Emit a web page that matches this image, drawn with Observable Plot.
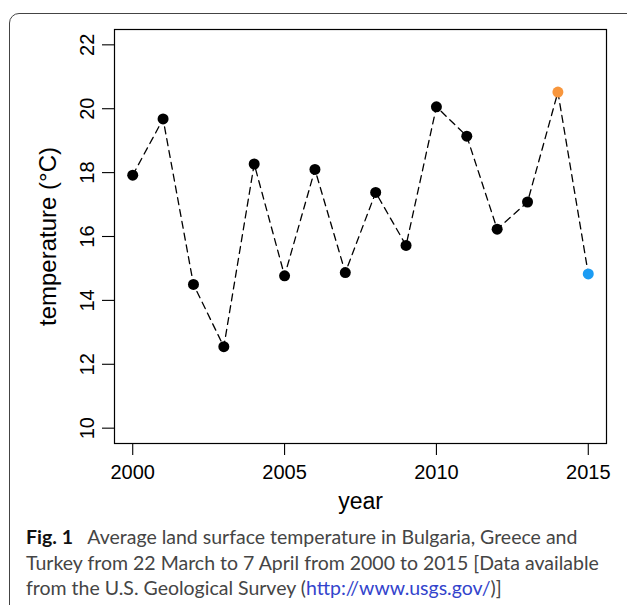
<!DOCTYPE html>
<html>
<head>
<meta charset="utf-8">
<script src="https://cdn.jsdelivr.net/npm/d3@7"></script>
<script src="https://cdn.jsdelivr.net/npm/@observablehq/plot@0.6"></script>
<style>
  html, body { margin: 0; padding: 0; background: #fff; }
  #wrap { position: relative; width: 627px; height: 605px; overflow: hidden; }
  #frame { position: absolute; left: 9px; top: 13px; width: 700px; height: 700px;
           border: 1.3px solid #444; border-top-left-radius: 10px; box-sizing: border-box; }
  #chart { position: absolute; left: 0; top: 0; }
  #cap { position: absolute; left: 26px; top: 524px; font-family: Lato, "Noto Sans", sans-serif;
         font-size: 19.5px; line-height: 25.5px; color: #454545; white-space: nowrap; }
  #cap b { color: #111; font-weight: 700; }
  #cap a { color: #3344cc; text-decoration: none; }
</style>
</head>
<body>
<div id="wrap">
  <div id="frame"></div>
  <div id="chart"></div>
  <div id="cap"><b>Fig. 1</b>&nbsp;&nbsp;&nbsp;Average land surface temperature in Bulgaria, Greece and<br>Turkey from 22 March to 7 April from 2000 to 2015 [Data available<br>from the U.S. Geological Survey (<a>http://www.usgs.gov/</a>)]</div>
</div>
<script>
const years = [2000, 2001, 2002, 2003, 2004, 2005, 2006, 2007, 2008, 2009, 2010, 2011, 2012, 2013, 2014, 2015];
const temps = [17.92, 19.68, 14.5, 12.55, 18.27, 14.77, 18.1, 14.87, 17.38, 15.72, 20.06, 19.14, 16.23, 17.08, 20.52, 14.83];
const xTicks = [2000, 2005, 2010, 2015];
const yTicks = [10, 12, 14, 16, 18, 20, 22];
const xLabel = "year";
const yLabel = "temperature (°C)";

const highlight = {2014: "#f8963c", 2015: "#1c9cf3"};
const data = years.map((y, i) => ({year: y, temp: temps[i]}));

const chart = Plot.plot({
  width: 627,
  height: 520,
  marginLeft: 114,
  marginRight: 21,
  marginTop: 29,
  marginBottom: 77,
  style: {fontFamily: "'Liberation Sans', Arial, sans-serif", color: "black", background: "transparent"},
  x: {domain: [1999.4, 2015.6]},
  y: {domain: [9.52, 22.48]},
  color: {type: "identity"},
  marks: [
    Plot.frame({stroke: "black", strokeWidth: 1.2}),
    Plot.axisX({ticks: xTicks, tickSize: 12, tickPadding: 9, fontSize: 20, tickFormat: d => String(d), label: null, strokeWidth: 1.1}),
    Plot.axisY({ticks: yTicks, tickSize: 12, tickPadding: 9, tickRotate: -90, fontSize: 20, label: null, strokeWidth: 1.1}),
    Plot.line(data, {x: "year", y: "temp", stroke: "black", strokeWidth: 1.3, strokeDasharray: "7,5"}),
    Plot.dot(data, {x: "year", y: "temp", r: 5.5, fill: d => highlight[d.year] ?? "black", stroke: null}),
    Plot.text([yLabel], {frameAnchor: "left", dx: -66, rotate: -90, textAnchor: "middle", lineAnchor: "middle", fontSize: 24, text: d => d}),
    Plot.text([xLabel], {frameAnchor: "bottom", dy: 58, textAnchor: "middle", lineAnchor: "middle", fontSize: 23, text: d => d})
  ]
});
document.getElementById("chart").appendChild(chart);
</script>
</body>
</html>
